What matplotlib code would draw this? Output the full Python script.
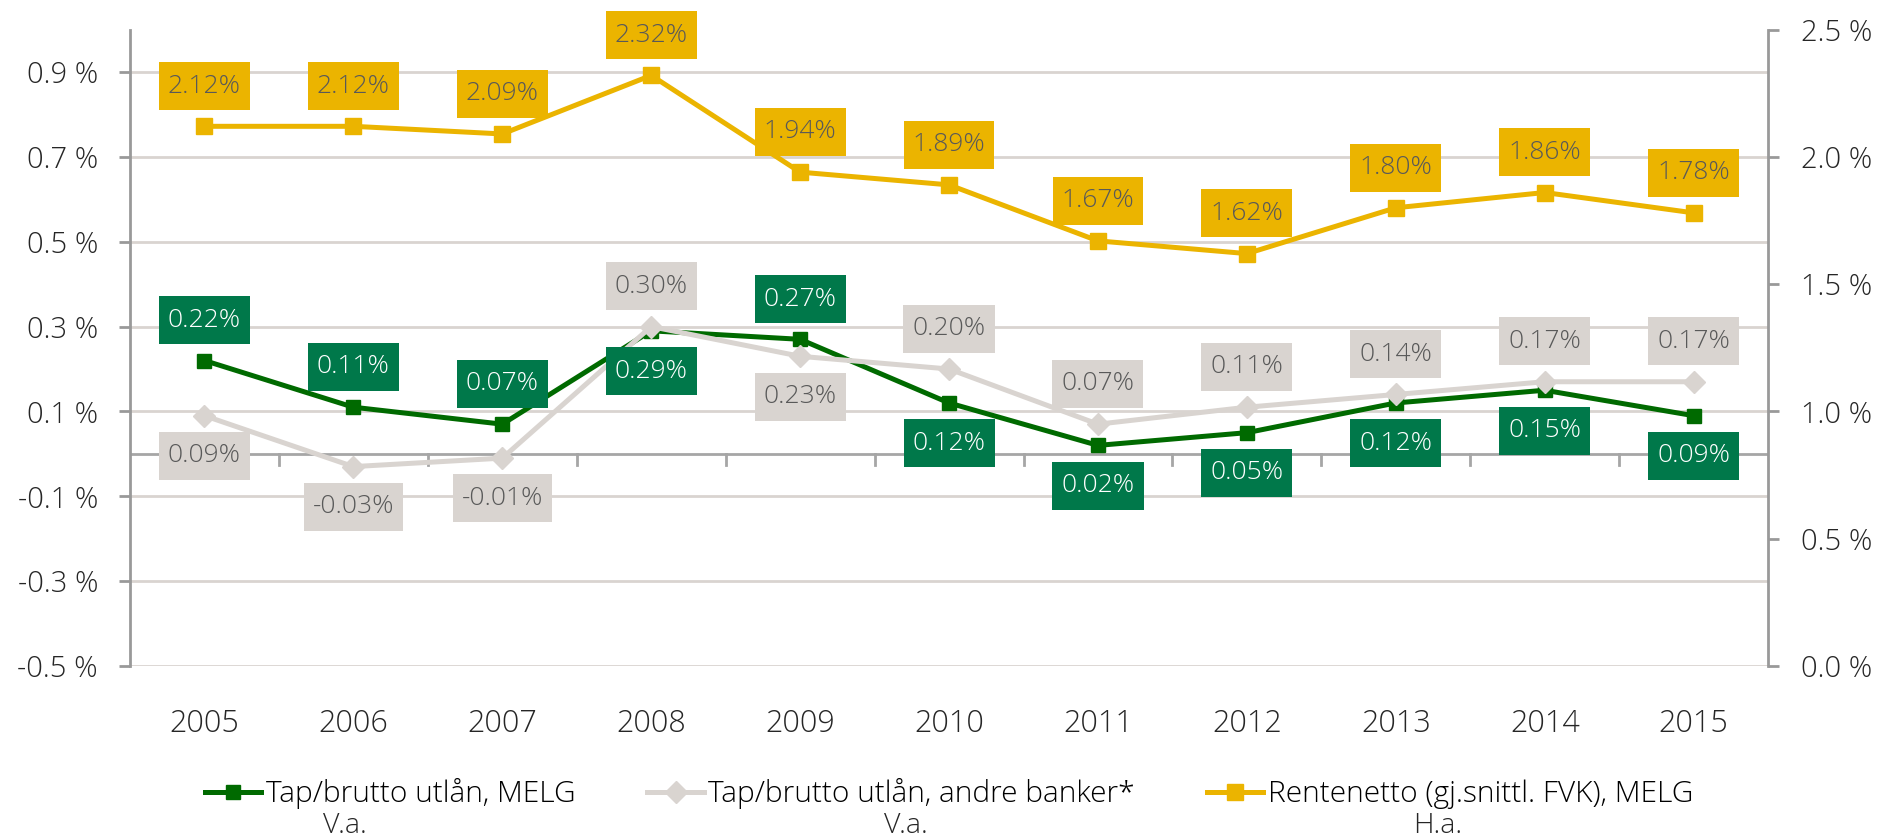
import matplotlib
matplotlib.use("Agg")
import matplotlib.pyplot as plt
from matplotlib.lines import Line2D
from matplotlib.path import Path

plt.rcParams['font.family'] = ['Open Sans', 'DejaVu Sans']
plt.rcParams['font.weight'] = 'light'

# data
years = ['2005', '2006', '2007', '2008', '2009', '2010', '2011', '2012', '2013', '2014', '2015']
tap_melg = [0.22, 0.11, 0.07, 0.29, 0.27, 0.12, 0.02, 0.05, 0.12, 0.15, 0.09]
tap_andre = [0.09, -0.03, -0.01, 0.30, 0.23, 0.20, 0.07, 0.11, 0.14, 0.17, 0.17]
rentenetto = [2.12, 2.12, 2.09, 2.32, 1.94, 1.89, 1.67, 1.62, 1.80, 1.86, 1.78]

# label above (+1) or below (-1) the point
pos_melg = [1, 1, 1, -1, 1, -1, -1, -1, -1, -1, -1]
pos_andre = [-1, -1, -1, 1, -1, 1, 1, 1, 1, 1, 1]

left_ticks = [-0.5, -0.3, -0.1, 0.1, 0.3, 0.5, 0.7, 0.9]
right_ticks = [0.0, 0.5, 1.0, 1.5, 2.0, 2.5]

GREEN = '#006A00'
GREEN_BOX = '#00784A'
GREY = '#D9D4D0'
YELLOW = '#EBB400'
GRID = '#D9D4D0'
SPINE = '#999999'
TXT = '#595959'
LBL_FS = 19
TICK_FS = 21
LEG_FS = 21.5


# Excel-like label box: ~9px side padding, 48px total height
def label_box(x0, y0, width, height, mutation_size):
    cx = x0 + width / 2
    cy = y0 + height / 2
    hw = width / 2 + 9
    hh = 24
    return Path([(cx - hw, cy - hh), (cx + hw, cy - hh), (cx + hw, cy + hh),
                 (cx - hw, cy + hh), (cx - hw, cy - hh)], closed=True)


fig = plt.figure(figsize=(18.81, 8.4), dpi=100)
ax = fig.add_axes([0.0691, 0.2071, 0.8709, 0.7577])
ax2 = ax.twinx()

x = list(range(len(years)))

ax.set_ylim(-0.5, 1.0)
ax.set_xlim(-0.5, len(years) - 0.5)
ax2.set_ylim(0, 2.5)

for t in left_ticks:
    ax.axhline(t, color=GRID, lw=2, zorder=0)

# zero line with category tick marks
ax.axhline(0, color='#A6A6A6', lw=2, zorder=1)
for i in range(1, len(years)):
    ax.plot([i - 0.5, i - 0.5], [0, -0.027], color='#A6A6A6', lw=2, zorder=1)

ax.plot(x, tap_melg, color=GREEN, lw=3.6, marker='s', ms=10, zorder=3)
ax.plot(x, tap_andre, color=GREY, lw=3.6, marker='D', ms=11, zorder=4)
ax2.plot(x, rentenetto, color=YELLOW, lw=3.6, marker='s', ms=12, zorder=3)


def add_labels(axis, vals, sides, face, color):
    for xi, v, s in zip(x, vals, sides):
        axis.annotate(f'{v:.2f}%', (xi, v), xytext=(0, 29 * s), textcoords='offset points',
                      ha='center', va='center', fontsize=LBL_FS, color=color, zorder=6,
                      bbox=dict(boxstyle=label_box, fc=face, ec='none'))


add_labels(ax, tap_melg, pos_melg, GREEN_BOX, 'white')
add_labels(ax, tap_andre, pos_andre, GREY, TXT)
add_labels(ax2, rentenetto, [1] * len(years), YELLOW, TXT)

# axes styling
for a in (ax, ax2):
    for side in ('top', 'bottom', 'left', 'right'):
        a.spines[side].set_visible(False)
ax.spines['left'].set_visible(True)
ax.spines['left'].set_color(SPINE)
ax.spines['left'].set_linewidth(2)
ax2.spines['right'].set_visible(True)
ax2.spines['right'].set_color(SPINE)
ax2.spines['right'].set_linewidth(2)

ax.set_yticks(left_ticks)
ax.set_yticklabels([f'{t:.1f} %' for t in left_ticks])
ax.tick_params(axis='y', length=8, width=2, color=SPINE, pad=15, labelsize=TICK_FS, labelcolor='#262626')
ax2.set_yticks(right_ticks)
ax2.set_yticklabels([f'{t:.1f} %' for t in right_ticks])
ax2.tick_params(axis='y', length=8, width=2, color=SPINE, pad=16, labelsize=TICK_FS, labelcolor='#262626')

ax.set_xticks(x)
ax.set_xticklabels(years)
ax.tick_params(axis='x', length=0, pad=30, labelsize=22, labelcolor='#262626')
ax2.set_zorder(ax.get_zorder() + 1)

handles = [
    Line2D([], [], color=GREEN, lw=3.6, marker='s', ms=10),
    Line2D([], [], color=GREY, lw=3.6, marker='D', ms=11),
    Line2D([], [], color=YELLOW, lw=3.6, marker='s', ms=12),
]
names = ['Tap/brutto utlån, MELG', 'Tap/brutto utlån, andre banker*', 'Rentenetto (gj.snittl. FVK), MELG']
fig.legend(handles, names, loc='center', bbox_to_anchor=(0.5045, 0.0548), ncol=3, frameon=False,
           fontsize=LEG_FS, handlelength=1.9, handletextpad=0.15, columnspacing=2.4, numpoints=1)

for xf, s in zip([345, 906, 1438], ['V.a.', 'V.a.', 'H.a.']):
    fig.text(xf / 1881, 1 - 826 / 840, s, ha='center', va='center', fontsize=LEG_FS - 1, color='#262626')

fig.savefig('out.png', dpi=100)
